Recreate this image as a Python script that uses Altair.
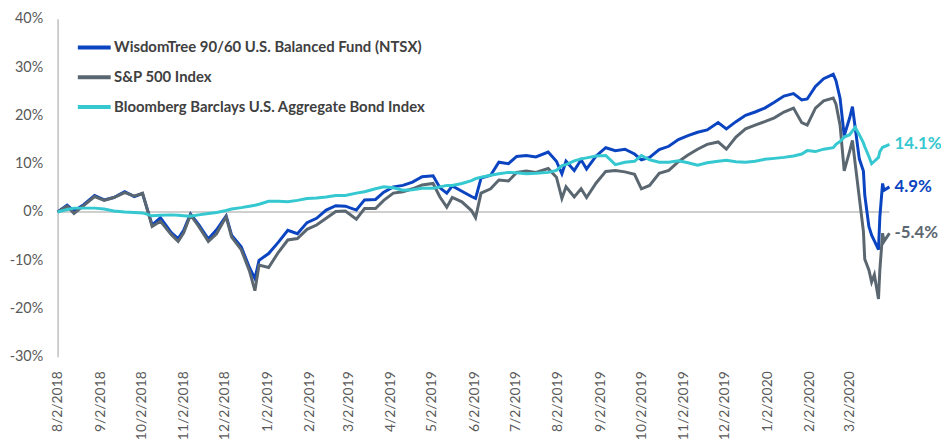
import altair as alt
import pandas as pd

dates = [
    "2018-08-02", "2018-08-09", "2018-08-14", "2018-08-21", "2018-08-29", "2018-09-05", "2018-09-12",
    "2018-09-20", "2018-09-27", "2018-10-03", "2018-10-10", "2018-10-16", "2018-10-24", "2018-10-29",
    "2018-11-02", "2018-11-07", "2018-11-13", "2018-11-20", "2018-11-26", "2018-12-03", "2018-12-07",
    "2018-12-14", "2018-12-20", "2018-12-24", "2018-12-27", "2019-01-03", "2019-01-10", "2019-01-17",
    "2019-01-24", "2019-01-31", "2019-02-07", "2019-02-14", "2019-02-21", "2019-02-28", "2019-03-08",
    "2019-03-14", "2019-03-22", "2019-03-28", "2019-04-04", "2019-04-11", "2019-04-18", "2019-04-25",
    "2019-05-03", "2019-05-08", "2019-05-13", "2019-05-17", "2019-05-24", "2019-05-31", "2019-06-03",
    "2019-06-07", "2019-06-14", "2019-06-20", "2019-06-27", "2019-07-03", "2019-07-10", "2019-07-17",
    "2019-07-26", "2019-08-01", "2019-08-05", "2019-08-08", "2019-08-14", "2019-08-19", "2019-08-23",
    "2019-08-30", "2019-09-06", "2019-09-13", "2019-09-20", "2019-09-27", "2019-10-02", "2019-10-08",
    "2019-10-15", "2019-10-22", "2019-10-29", "2019-11-05", "2019-11-12", "2019-11-19", "2019-11-27",
    "2019-12-03", "2019-12-10", "2019-12-17", "2019-12-24", "2019-12-31", "2020-01-07", "2020-01-14",
    "2020-01-21", "2020-01-27", "2020-01-31", "2020-02-06", "2020-02-12", "2020-02-19", "2020-02-21",
    "2020-02-24", "2020-02-27", "2020-03-02", "2020-03-04", "2020-03-06", "2020-03-09", "2020-03-12",
    "2020-03-13", "2020-03-16", "2020-03-18", "2020-03-20", "2020-03-23", "2020-03-24", "2020-03-26",
    "2020-03-27", "2020-03-31",
]

ntsx = [
    0.0, 1.4, 0.2, 1.5, 3.4, 2.5, 3.0, 4.2, 3.2, 3.8, -2.7, -1.2, -4.3, -5.5,
    -3.8, -0.4, -2.6, -5.6, -3.7, -0.8, -4.8, -7.2, -11.5, -13.8, -10.0, -8.6, -6.3, -3.8,
    -4.5, -2.2, -1.3, 0.4, 1.3, 1.2, 0.4, 2.5, 2.6, 4.1, 5.2, 5.5, 6.2, 7.3,
    7.5, 5.0, 3.9, 5.4, 4.3, 3.2, 2.8, 7.0, 7.6, 10.3, 10.0, 11.5, 11.7, 11.4,
    12.4, 10.5, 7.9, 10.5, 8.6, 10.8, 8.9, 11.6, 13.3, 12.7, 13.0, 12.0, 10.8, 11.3,
    12.9, 13.6, 15.0, 15.8, 16.5, 17.0, 18.5, 17.2, 18.7, 20.0, 20.7, 21.5, 22.7, 24.0,
    24.5, 23.2, 23.4, 26.0, 27.6, 28.5, 27.2, 23.5, 15.8, 19.5, 21.8, 17.5, 11.0, 8.5,
    3.5, -3.0, -4.8, -6.0, -7.8, -1.0, 5.9, 4.5, 5.2,
]

spx = [
    0.0, 1.2, -0.3, 1.3, 3.2, 2.4, 3.0, 4.0, 3.3, 3.9, -3.0, -1.9, -4.7, -6.1,
    -4.3, -0.6, -3.0, -6.1, -4.5, -1.0, -5.2, -7.8, -12.2, -16.3, -11.0, -11.5, -8.4, -5.8,
    -5.5, -3.6, -2.7, -1.3, 0.1, 0.2, -1.5, 0.7, 0.7, 2.4, 3.9, 4.2, 4.8, 5.6,
    5.9, 3.1, 1.0, 3.0, 2.1, 0.3, -1.2, 3.9, 4.8, 6.6, 6.4, 8.2, 8.5, 8.2,
    9.0, 7.2, 2.8, 5.2, 3.1, 4.8, 3.0, 6.0, 8.4, 8.6, 8.3, 7.8, 4.8, 5.5,
    8.0, 8.6, 10.4, 11.8, 13.0, 14.0, 14.5, 13.0, 15.5, 17.2, 18.0, 18.7, 19.5, 20.7,
    21.5, 18.5, 18.0, 21.5, 23.0, 23.6, 22.3, 17.9, 8.5, 12.6, 14.8, 10.0, 3.0, -4.0,
    -9.8, -12.0, -14.5, -13.0, -18.0, -12.0, -4.4, -6.1, -4.4,
]

agg = [
    0.0, 0.5, 0.8, 0.8, 0.8, 0.6, 0.2, 0.0, -0.1, -0.2, -0.8, -0.7, -0.6, -0.7,
    -0.8, -0.9, -0.6, -0.3, -0.1, 0.3, 0.6, 0.9, 1.2, 1.4, 1.6, 2.2, 2.2, 2.1,
    2.4, 2.8, 2.9, 3.1, 3.4, 3.4, 3.9, 4.2, 4.8, 5.2, 5.0, 4.5, 4.6, 4.9,
    4.9, 5.2, 5.5, 5.5, 5.9, 6.5, 6.9, 7.2, 7.6, 7.9, 8.2, 8.1, 7.9, 8.0,
    8.2, 8.6, 9.6, 9.8, 10.6, 11.0, 11.2, 11.6, 11.7, 9.8, 10.3, 10.5, 11.7, 10.8,
    10.3, 10.3, 10.6, 10.2, 9.7, 10.2, 10.5, 10.7, 10.4, 10.3, 10.5, 10.9, 11.1, 11.3,
    11.6, 12.0, 12.7, 12.5, 13.0, 13.3, 14.0, 14.6, 15.5, 16.0, 16.8, 17.5, 16.0, 14.3,
    13.5, 11.5, 10.0, 10.5, 11.3, 12.5, 13.4, 13.5, 14.0,
]

series_names = [
    "WisdomTree 90/60 U.S. Balanced Fund (NTSX)",
    "S&P 500 Index",
    "Bloomberg Barclays U.S. Aggregate Bond Index",
]
series_colors = ["#0b44c1", "#5b6770", "#35c8d0"]
end_labels = ["4.9%", "-5.4%", "14.1%"]

tick_dates = [
    "2018-08-02", "2018-09-02", "2018-10-02", "2018-11-02", "2018-12-02", "2019-01-02",
    "2019-02-02", "2019-03-02", "2019-04-02", "2019-05-02", "2019-06-02", "2019-07-02",
    "2019-08-02", "2019-09-02", "2019-10-02", "2019-11-02", "2019-12-02", "2020-01-02",
    "2020-02-02", "2020-03-02",
]
y_ticks = [-30, -20, -10, 0, 10, 20, 30, 40]


def to_dt(s):
    y, m, d = (int(p) for p in s.split("-"))
    return alt.DateTime(year=y, month=m, date=d)


rows = []
for name, vals in zip(series_names, [ntsx, spx, agg]):
    for d, v in zip(dates, vals):
        rows.append({"date": d + "T00:00:00", "series": name, "value": v})
df = pd.DataFrame(rows)

end_df = pd.DataFrame({
    "date": [dates[-1] + "T00:00:00"] * 3,
    "series": series_names,
    "value": [ntsx[-1], spx[-1], agg[-1]],
    "label": end_labels,
})

FONT = "Lato"
LABEL_COLOR = "#595959"

x_enc = alt.X(
    "date:T",
    scale=alt.Scale(domain=[to_dt(dates[0]), to_dt(dates[-1])], nice=False),
    axis=alt.Axis(
        title=None, values=[to_dt(t) for t in tick_dates], format="%-m/%-d/%Y",
        labelAngle=-90, labelPadding=14, labelFontSize=14, labelFont=FONT,
        labelColor=LABEL_COLOR, domain=False, ticks=False, grid=False,
        labelOverlap=False,
    ),
)
y_enc = alt.Y(
    "value:Q",
    scale=alt.Scale(domain=[-30, 40], nice=False),
    axis=alt.Axis(
        title=None, values=y_ticks, labelExpr="datum.value + '%'",
        labelPadding=15, labelFontSize=14.5, labelFont=FONT, labelColor=LABEL_COLOR,
        domain=True, domainColor="#bfbfbf", domainWidth=1.5, ticks=False, grid=False,
    ),
)
color_scale = alt.Scale(domain=series_names, range=series_colors)

zero_rule = alt.Chart(pd.DataFrame({"value": [0]})).mark_rule(
    color="#bfbfbf", strokeWidth=1.5
).encode(y=alt.Y("value:Q", scale=alt.Scale(domain=[-30, 40], nice=False)))

lines = alt.Chart(df).mark_line(strokeWidth=3).encode(
    x=x_enc,
    y=y_enc,
    color=alt.Color(
        "series:N", scale=color_scale, sort=series_names,
        legend=alt.Legend(
            title=None, orient="none", legendX=18, legendY=10,
            symbolType="stroke", symbolSize=1100, symbolStrokeWidth=4,
            labelFont=FONT, labelFontSize=15, labelFontWeight="bold",
            labelColor="#404040", rowPadding=3, labelLimit=500, labelOffset=1,
        ),
    ),
)

labels = alt.Chart(end_df).mark_text(
    align="left", baseline="middle", dx=5, fontSize=17, fontWeight="bold", font=FONT
).encode(
    x="date:T",
    y="value:Q",
    text="label:N",
    color=alt.Color("series:N", scale=color_scale, legend=None),
)

chart = alt.layer(zero_rule, lines, labels).properties(
    width=839,
    height=341,
    autosize=alt.AutoSizeParams(type="none"),
    padding={"left": 50, "top": 9, "right": 52, "bottom": 86},
).configure_view(stroke=None)

chart.save("out.html", embed_options={"renderer": "svg", "actions": False})
